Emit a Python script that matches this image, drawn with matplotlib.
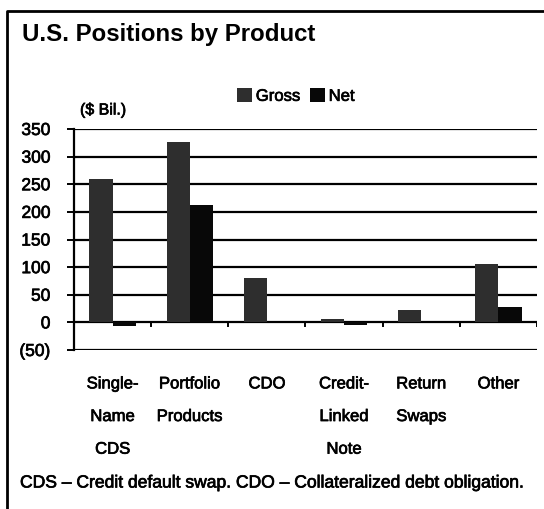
import matplotlib
matplotlib.use("Agg")
import matplotlib.pyplot as plt
from matplotlib.lines import Line2D
from matplotlib.patches import Patch
import matplotlib.patheffects as pe
import numpy as np

plt.rcParams['font.family'] = ['Liberation Sans', 'DejaVu Sans']

# data ($ Bil.)
categories = ["Single-\nName\nCDS", "Portfolio\nProducts", "CDO",
              "Credit-\nLinked\nNote", "Return\nSwaps", "Other"]
gross = [259, 326, 81, 6, 22, 105]
net = [-7, 212, 0, -4, 0, 27]
yticks = [-50, 0, 50, 100, 150, 200, 250, 300, 350]
ytick_labels = ["(50)", "0", "50", "100", "150", "200", "250", "300", "350"]

W, H = 544, 509
fig = plt.figure(figsize=(W / 100, H / 100), dpi=100)
fig.patch.set_facecolor('white')

# slight stroke so the text looks like the heavy print of the scan
heavy = [pe.withStroke(linewidth=0.5, foreground='black')]

ax = fig.add_axes([74 / W, 1 - 350 / H, (537 - 74) / W, (350 - 129) / H])

x = np.arange(len(categories))
bw = 0.3
ax.bar(x - bw / 2, gross, bw, color='#2e2e2e', label='Gross', zorder=3)
ax.bar(x + bw / 2, net, bw, color='#080808', label='Net', zorder=3)

# gridlines
for v in yticks:
    ax.axhline(v, color='black', lw=1.6, zorder=2)

# category separator ticks below the zero line
for b in np.arange(0.5, len(categories), 1.0):
    ax.plot([b, b], [0, -7], color='black', lw=1.4, zorder=2)

ax.set_xlim(-0.5, len(categories) - 0.5)
ax.set_ylim(-50, 350)

for s in ['top', 'right', 'bottom']:
    ax.spines[s].set_visible(False)
ax.spines['left'].set_linewidth(1.6)

ax.set_yticks(yticks)
ax.set_yticklabels(ytick_labels, fontsize=12.5)
ax.tick_params(axis='y', length=5, width=1.4, pad=12)

ax.set_xticks(x)
ax.set_xticklabels(categories, fontsize=12, linespacing=2.47, va='top')
ax.tick_params(axis='x', length=0, pad=19)

for lbl in ax.get_xticklabels() + ax.get_yticklabels():
    lbl.set_path_effects(heavy)

# legend
handles = [Patch(facecolor='#2e2e2e'), Patch(facecolor='#080808')]
leg = fig.legend(handles, ['Gross', 'Net'], loc='center', bbox_to_anchor=(296 / W, 1 - 96 / H),
                 ncol=2, frameon=False, fontsize=12, handlelength=0.9, handleheight=0.9,
                 handletextpad=0.2, columnspacing=0.6, borderpad=0)
for t in leg.get_texts():
    t.set_path_effects(heavy)

fig.text(22 / W, 1 - 41 / H, "U.S. Positions by Product", fontsize=17.3,
         fontweight='bold', va='baseline')
fig.text(80 / W, 1 - 110 / H, "($ Bil.)", fontsize=11.5, va='center',
         path_effects=heavy)
fig.text(20 / W, 1 - 483 / H,
         "CDS \u2013 Credit default swap. CDO \u2013 Collateralized debt obligation.",
         fontsize=12.6, va='center', path_effects=heavy)

# frame around the exhibit
fig.add_artist(Line2D([7 / W, 7 / W, 1.0], [0.0, 1 - 11 / H, 1 - 11 / H],
                      transform=fig.transFigure, color='black', lw=2))

fig.savefig("out.png", dpi=100, facecolor='white')
